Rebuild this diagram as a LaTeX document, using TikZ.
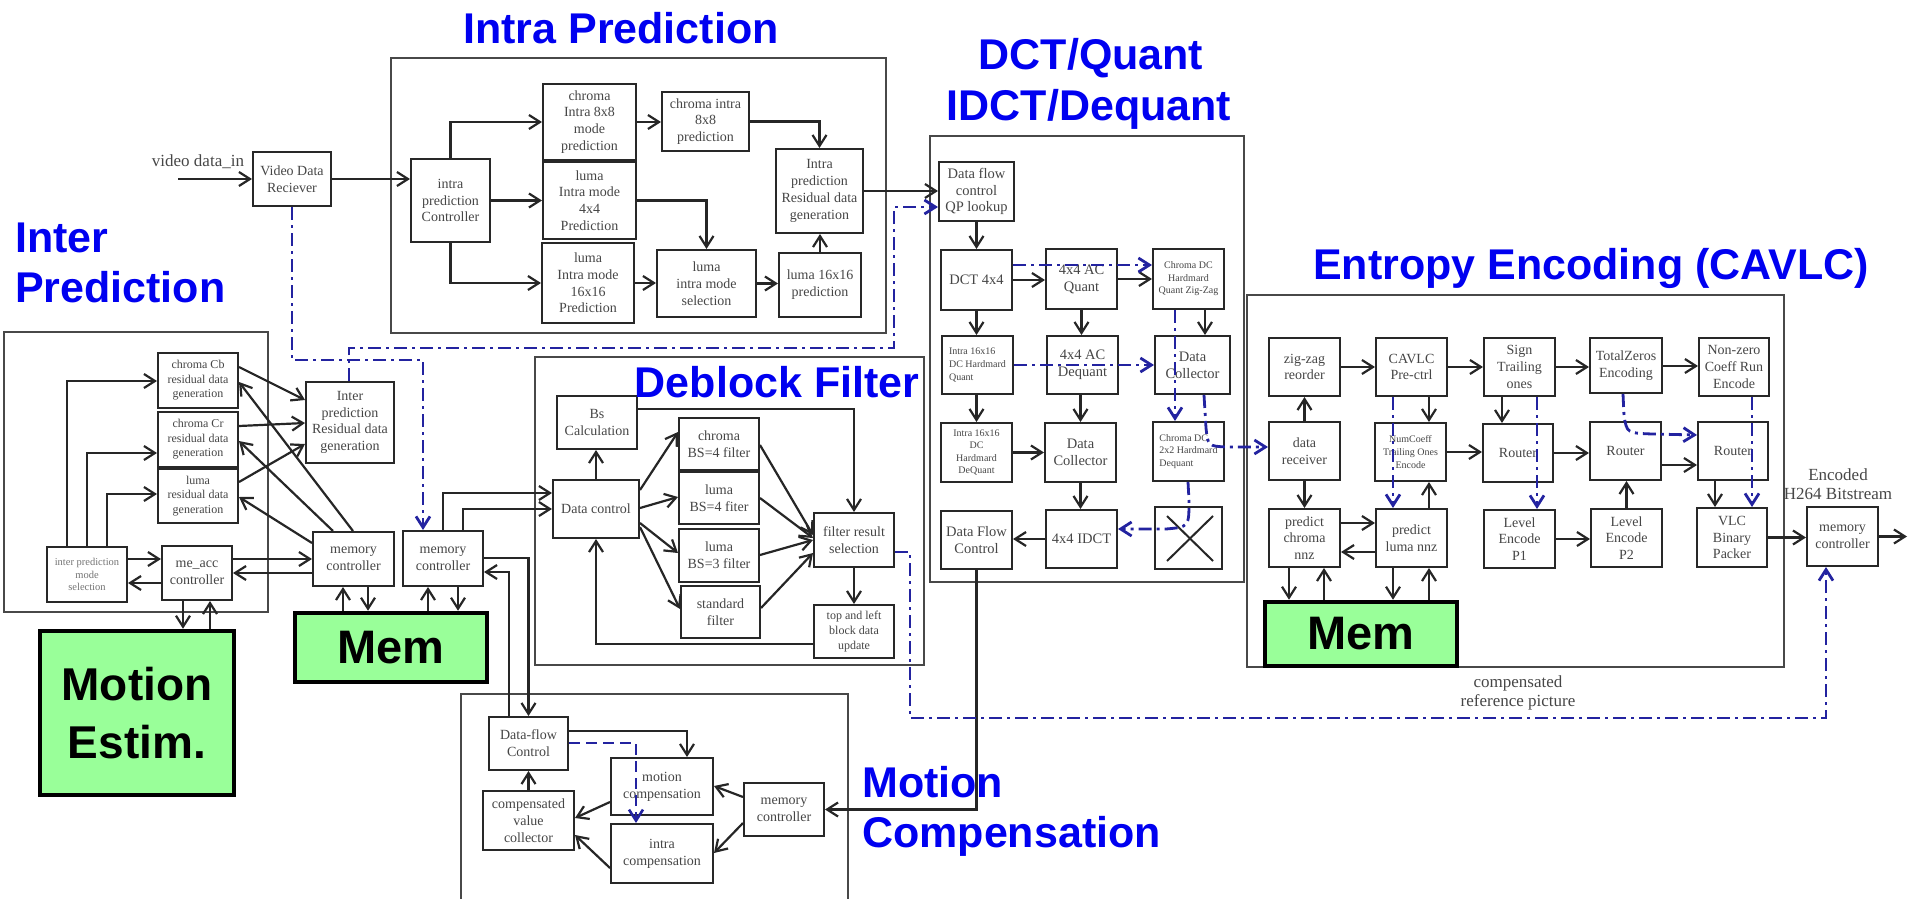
\documentclass[tikz,border=0pt]{standalone}
\usepackage{fontspec}
\setmainfont{Liberation Serif}
\newfontfamily\headfont{Liberation Sans}
\usetikzlibrary{arrows.meta,calc}
\definecolor{boxline}{RGB}{40,40,40}
\definecolor{boxtext}{RGB}{70,70,70}
\definecolor{flowblue}{RGB}{35,35,160}
\definecolor{headblue}{RGB}{0,0,240}
\definecolor{memgreen}{RGB}{153,255,153}
\tikzset{
  sz/.style 2 args={minimum width=#1pt,minimum height=#2pt},
  blk/.style={draw=boxline,line width=2pt,fill=white,inner sep=0pt,align=center,
    text=boxtext,font=\fontsize{14}{16.8}\selectfont},
  fsmall/.style={font=\fontsize{12}{14.6}\selectfont},
  ftiny/.style={font=\fontsize{10}{12.6}\selectfont},
  frame/.style={draw=boxline!85,line width=2pt},
  arr/.style={draw=black!85,line width=2.2pt,-{Straight Barb[length=11pt,width=14pt]}},
  link/.style={draw=black!85,line width=2pt},
  bluearr/.style={draw=flowblue,line width=2.8pt,dash pattern=on 13pt off 5pt on 3pt off 5pt,
    -{Straight Barb[length=11pt,width=14pt]}},
  bluedash/.style={draw=flowblue,line width=2.6pt,dash pattern=on 11pt off 6pt,
    -{Straight Barb[length=11pt,width=14pt]}},
  head/.style={text=headblue,font=\headfont\bfseries\fontsize{43}{50}\selectfont,inner sep=0pt},
  memblk/.style={draw=black,line width=4.5pt,fill=memgreen,align=center,
    font=\headfont\bfseries\fontsize{47}{58}\selectfont},
  lbl/.style={text=boxtext,font=\fontsize{17}{19}\selectfont,align=center,inner sep=0pt},
}
\begin{document}
\begin{tikzpicture}[x=1pt,y=-1pt]
\useasboundingbox (0,0) rectangle (1909,899);

% block frames
\draw[frame] (4,332) rectangle (268,612);
\draw[frame] (391,58) rectangle (886,333);
\draw[frame] (930,136) rectangle (1244,582);
\draw[frame] (1247,295) rectangle (1784,667);
\draw[frame] (535,357) rectangle (924,665);
\draw[frame] (461,910) -- (461,694) -- (848,694) -- (848,910);

% ---------- inter prediction ----------
\node[blk,fsmall,sz={80}{55}] (cb) at (198,380.5) {chroma Cb\\residual data\\generation};
\node[blk,fsmall,sz={80}{55}] (cr) at (198,439.5) {chroma Cr\\residual data\\generation};
\node[blk,fsmall,sz={80}{54}] (lu) at (198,496) {luma\\residual data\\generation};
\node[blk,sz={88}{81}] (ipr) at (350,422.5) {Inter\\prediction\\Residual data\\generation};
\node[blk,font=\fontsize{10.5}{12.5}\selectfont,text=boxtext!75,sz={80}{55}] (ims) at (87,574.5) {inter prediction\\mode\\selection};
\node[blk,sz={70}{54}] (meacc) at (197,573) {me\_acc\\controller};
\node[blk,sz={81}{54}] (mc1) at (353.5,559) {memory\\controller};
\node[blk,sz={80}{55}] (mc2) at (443,558.5) {memory\\controller};
\node[memblk,sz={192}{69}] (mem1) at (391,647.5) {Mem};
\node[memblk,font=\headfont\bfseries\fontsize{46}{58}\selectfont,sz={194}{164}] (me) at (137,713) {Motion\\Estim.};

% ---------- video input ----------
\node[blk,sz={78}{54}] (vdr) at (292,179) {Video Data\\Reciever};
\node[lbl,anchor=base] (vinlbl) at (198,166) {video data\_in};
\coordinate (vin) at (178,179);

% ---------- intra prediction ----------
\node[blk,sz={79}{83}] (ictrl) at (450.5,200.5) {intra\\prediction\\Controller};
\node[blk,sz={93}{76}] (c8m) at (589.5,122) {chroma\\Intra 8x8\\mode\\prediction};
\node[blk,sz={93}{77}] (l4) at (589.5,200.5) {luma\\Intra mode\\4x4\\Prediction};
\node[blk,sz={92}{80}] (l16) at (588,283) {luma\\Intra mode\\16x16\\Prediction};
\node[blk,sz={87}{59}] (c8p) at (705.5,121.5) {chroma intra\\8x8\\prediction};
\node[blk,sz={99}{67}] (lsel) at (706.5,283.5) {luma\\intra mode\\selection};
\node[blk,sz={82}{64}] (l16p) at (820,285) {luma 16x16\\prediction};
\node[blk,sz={87}{84}] (iprd) at (819.5,191) {Intra\\prediction\\Residual data\\generation};

% ---------- DCT / quant ----------
\node[blk,font=\fontsize{14.5}{16.8}\selectfont,sz={75}{59}] (qp) at (976.5,191.5) {Data flow\\control\\QP lookup};
\node[blk,font=\fontsize{14.5}{16.8}\selectfont,sz={71}{60}] (dct) at (976.5,280) {DCT 4x4};
\node[blk,font=\fontsize{14.5}{16.8}\selectfont,sz={71}{60}] (acq) at (1081.5,279) {4x4 AC\\Quant};
\node[blk,ftiny,sz={71}{60}] (cdq) at (1188.5,279) {Chroma DC\\Hardmard\\Quant Zig-Zag};
\node[blk,ftiny,align=left,sz={71}{58}] (i16q) at (977.5,365) {Intra 16x16\\DC Hardmard\\Quant};
\node[blk,font=\fontsize{14.5}{16.8}\selectfont,sz={71}{58}] (acdq) at (1082.5,365) {4x4 AC\\Dequant};
\node[blk,font=\fontsize{14.5}{16.8}\selectfont,sz={75}{58}] (dcr) at (1192.5,365) {Data\\Collector};
\node[blk,ftiny,sz={71}{59}] (i16dq) at (976.5,452.5) {Intra 16x16\\DC\\Hardmard\\DeQuant};
\node[blk,font=\fontsize{14.5}{16.8}\selectfont,sz={71}{59}] (dcm) at (1080.5,452.5) {Data\\Collector};
\node[blk,ftiny,align=left,sz={71}{59}] (cddq) at (1188.5,451.5) {Chroma DC\\2x2 Hardmard\\Dequant};
\node[blk,font=\fontsize{14.5}{16.8}\selectfont,sz={71}{58}] (dfc) at (976.5,540) {Data Flow\\Control};
\node[blk,font=\fontsize{14.5}{16.8}\selectfont,sz={71}{58}] (idct) at (1081.5,539) {4x4 IDCT};
\node[blk,sz={67}{62}] (xbox) at (1188.5,538) {};
\draw[link] ($(xbox.north west)+(13,10)$) -- ($(xbox.south east)+(-10,-9)$);
\draw[link] ($(xbox.north east)+(-10,10)$) -- ($(xbox.south west)+(13,-9)$);

% ---------- entropy encoding ----------
\node[blk,sz={71}{58}] (zz) at (1304.5,367) {zig-zag\\reorder};
\node[blk,sz={71}{58}] (cpre) at (1411.5,367) {CAVLC\\Pre-ctrl};
\node[blk,sz={71}{58}] (sto) at (1519.5,367) {Sign\\Trailing\\ones};
\node[blk,sz={72}{55}] (tz) at (1626,365.5) {TotalZeros\\Encoding};
\node[blk,sz={70}{58}] (nzc) at (1734,367) {Non-zero\\Coeff Run\\Encode};
\node[blk,sz={71}{58}] (drx) at (1304.5,451) {data\\receiver};
\node[blk,ftiny,sz={71}{58}] (nct) at (1410.5,452) {NumCoeff\\Trailing Ones\\Encode};
\node[blk,sz={70}{58}] (r1) at (1518,453) {Router};
\node[blk,sz={71}{58}] (r2) at (1625.5,451) {Router};
\node[blk,sz={70}{58}] (r3) at (1733,451) {Router};
\node[blk,sz={71}{58}] (pcn) at (1304.5,538) {predict\\chroma\\nnz};
\node[blk,sz={71}{58}] (pln) at (1411.5,538) {predict\\luma nnz};
\node[blk,sz={71}{58}] (lp1) at (1519.5,539) {Level\\Encode\\P1};
\node[blk,sz={71}{58}] (lp2) at (1626.5,538) {Level\\Encode\\P2};
\node[blk,sz={70}{59}] (vlc) at (1732,537.5) {VLC\\Binary\\Packer};
\node[memblk,sz={192}{64}] (mem3) at (1361,634) {Mem};
\node[blk,sz={71}{59}] (mco) at (1842.5,536.5) {memory\\controller};
\node[lbl] (enclbl) at (1838,484) {Encoded\\H264 Bitstream};
\node[lbl] (reflbl) at (1518,692.5) {compensated\\reference picture};
\coordinate (vout) at (1907,536.5);

% ---------- deblock filter ----------
\node[blk,sz={80}{53}] (bs) at (597,422.5) {Bs\\Calculation};
\node[blk,sz={86}{58}] (dctl) at (596,509) {Data control};
\node[blk,sz={80}{52}] (cf4) at (719,444) {chroma\\BS=4 filter};
\node[blk,sz={80}{52}] (lf4) at (719,498) {luma\\BS=4 fiter};
\node[blk,sz={80}{53}] (lf3) at (719,555.5) {luma\\BS=3 filter};
\node[blk,sz={79}{52}] (sf) at (720.5,612) {standard\\filter};
\node[blk,sz={80}{54}] (frs) at (854,540) {filter result\\selection};
\node[blk,fsmall,sz={80}{53}] (tlu) at (854,631.5) {top and left\\block data\\update};

% ---------- motion compensation ----------
\node[blk,sz={79}{53}] (mdfc) at (528.5,743.5) {Data-flow\\Control};
\node[blk,sz={91}{59}] (cvc) at (528.5,820.5) {compensated\\value\\collector};
\node[blk,sz={102}{57}] (mcomp) at (662,786.5) {motion\\compensation};
\node[blk,sz={102}{59}] (icomp) at (662,853.5) {intra\\compensation};
\node[blk,sz={80}{53}] (mmc) at (784,809.5) {memory\\controller};

% ===== connectors: inter prediction =====
\draw[arr] (ims.north -| 67,0) |- (cb.west |- 0,381);
\draw[arr] (ims.north -| 87,0) |- (cr.west |- 0,453);
\draw[arr] (ims.north -| 107,0) |- (lu.west |- 0,494);
\draw[arr] (ims.east |- 0,559) -- (meacc.west |- 0,559);
\draw[arr] (meacc.west |- 0,583) -- (ims.east |- 0,583);
\draw[arr] (meacc.east |- 0,559) -- (mc1.west |- 0,559);
\draw[arr] (mc1.west |- 0,573) -- (meacc.east |- 0,573);
\draw[arr] (cb.east |- 0,367) -- (ipr.west |- 0,400);
\draw[arr] (cr.east |- 0,426) -- (ipr.west |- 0,423);
\draw[arr] (lu.east |- 0,482) -- (ipr.west |- 0,444);
\draw[arr] (mc1.north -| 353,0) -- (cb.east |- 0,382);
\draw[arr] (mc1.north -| 333,0) -- (cr.east |- 0,441);
\draw[arr] (mc1.west |- 0,543) -- (lu.east |- 0,497);
\draw[arr] (mem1.north -| 343,0) -- (mc1.south -| 343,0);
\draw[arr] (mc1.south -| 368,0) -- (mem1.north -| 368,0);
\draw[arr] (mem1.north -| 428,0) -- (mc2.south -| 428,0);
\draw[arr] (mc2.south -| 458,0) -- (mem1.north -| 458,0);
\draw[arr] (meacc.south -| 183,0) -- (me.north -| 183,0);
\draw[arr] (me.north -| 210,0) -- (meacc.south -| 210,0);

% ===== connectors: input and intra prediction =====
\draw[arr] (vin) -- (vdr.west);
\draw[arr] (vdr.east) -- (ictrl.west |- vdr.east);
\draw[arr] (ictrl.north) |- (c8m.west);
\draw[arr] (ictrl.east) -- (l4.west |- ictrl.east);
\draw[arr] (ictrl.south) |- (l16.west);
\draw[arr] (c8m.east) -- (c8p.west |- c8m.east);
\draw[arr] (c8p.east) -| (iprd.north);
\draw[arr] (l4.east) -| (lsel.north);
\draw[arr] (l16.east) -- (lsel.west |- l16.east);
\draw[arr] (lsel.east) -- (l16p.west |- lsel.east);
\draw[arr] (l16p.north) -- (iprd.south -| l16p.north);
\draw[arr] (iprd.east) -- (qp.west |- iprd.east);

% ===== connectors: DCT / quant =====
\draw[arr] (qp.south) -- (dct.north);
\draw[arr] (dct.east) -- (acq.west |- dct.east);
\draw[arr] (acq.east) -- (cdq.west);
\draw[arr] (dct.south) -- (i16q.north -| dct.south);
\draw[arr] (acq.south) -- (acdq.north -| acq.south);
\draw[arr] (cdq.south -| 1205,0) -- (dcr.north -| 1205,0);
\draw[arr] (i16q.south -| dct.south) -- (i16dq.north);
\draw[arr] (acdq.south -| dcm.north) -- (dcm.north);
\draw[arr] (i16dq.east) -- (dcm.west |- i16dq.east);
\draw[arr] (dcm.south) -- (idct.north -| dcm.south);
\draw[arr] (idct.west) -- (dfc.east |- idct.west);
\draw[arr] (dfc.south) |- (mmc.east);

% ===== connectors: entropy encoding =====
\draw[arr] (zz.east) -- (cpre.west);
\draw[arr] (cpre.east) -- (sto.west);
\draw[arr] (sto.east) -- (tz.west |- sto.east);
\draw[arr] (tz.east |- 0,366) -- (nzc.west |- 0,366);
\draw[arr] (drx.north) -- (zz.south);
\draw[arr] (drx.south) -- (pcn.north);
\draw[arr] (cpre.south -| 1429,0) -- (nct.north -| 1429,0);
\draw[arr] (sto.south -| 1502,0) -- (r1.north -| 1502,0);
\draw[arr] (nct.east) -- (r1.west |- nct.east);
\draw[arr] (r1.east) -- (r2.west |- r1.east);
\draw[arr] (r2.east |- 0,465) -- (r3.west |- 0,465);
\draw[arr] (r3.south -| 1715,0) -- (vlc.north -| 1715,0);
\draw[arr] (lp1.east) -- (lp2.west |- lp1.east);
\draw[arr] (lp2.north) -- (r2.south -| lp2.north);
\draw[arr] (pcn.east |- 0,523) -- (pln.west |- 0,523);
\draw[arr] (pln.west |- 0,552) -- (pcn.east |- 0,552);
\draw[arr] (pln.north -| 1429,0) -- (nct.south -| 1429,0);
\draw[arr] (pcn.south -| 1289,0) -- (mem3.north -| 1289,0);
\draw[arr] (mem3.north -| 1324,0) -- (pcn.south -| 1324,0);
\draw[arr] (pln.south -| 1393,0) -- (mem3.north -| 1393,0);
\draw[arr] (mem3.north -| 1429,0) -- (pln.south -| 1429,0);
\draw[arr] (vlc.east) -- (mco.west |- vlc.east);
\draw[arr] (mco.east) -- (vout);

% ===== connectors: deblock filter =====
\draw[arr] (mc2.north -| 443,0) |- (dctl.west |- 0,493);
\draw[arr] (mc2.north -| 463,0) |- (dctl.west |- 0,509);
\draw[arr] (dctl.north) -- (bs.south -| dctl.north);
\draw[arr] (bs.east |- 0,409) -| (frs.north);
\draw[arr] (dctl.east |- 0,490) -- (cf4.west |- 0,432);
\draw[arr] (dctl.east |- 0,508) -- (lf4.west |- 0,497);
\draw[arr] (dctl.east |- 0,523) -- (lf3.west |- 0,553);
\draw[arr] (dctl.east |- 0,527) -- (sf.west |- 0,609);
\draw[arr] (cf4.east |- 0,445) -- (frs.west |- 0,535);
\draw[arr] (lf4.east |- 0,498) -- (frs.west |- 0,538);
\draw[arr] (lf3.east |- 0,555) -- (frs.west |- 0,540);
\draw[arr] (sf.east |- 0,608) -- (frs.west |- 0,553);
\draw[arr] (frs.south) -- (tlu.north);
\draw[arr] (tlu.west |- 0,644) -| (dctl.south);

% ===== connectors: motion compensation =====
\draw[arr] (mc2.east |- 0,558) -| (mdfc.north);
\draw[arr] (mdfc.north -| 509,0) |- (mc2.east |- 0,572);
\draw[arr] (mdfc.east |- 0,731) -| (mcomp.north -| 687,0);
\draw[arr] (cvc.north -| mdfc.south) -- (mdfc.south);
\draw[arr] (mcomp.west |- 0,802) -- (cvc.east |- 0,818);
\draw[arr] (icomp.west |- 0,868) -- (cvc.east |- 0,835);
\draw[arr] (mmc.west |- 0,797) -- (mcomp.east |- 0,786);
\draw[arr] (mmc.west |- 0,823) -- (icomp.east |- 0,853);

% ===== control / side paths (blue) =====
\draw[bluearr] (vdr.south) -- (vdr.south |- 0,360) -| (mc2.north -| 423,0);
\draw[bluearr] (ipr.north -| 349,0) |- (894,348) |- (qp.west |- 0,207);
\draw[bluearr] (dct.east |- 0,265) -- (cdq.west |- 0,265);
\draw[bluearr] (i16q.east |- 0,365) -- (dcr.west |- 0,365);
\draw[bluearr] (cdq.south -| 1175,0) -- (cddq.north -| 1175,0);
\draw[bluearr] (dcr.south -| 1204,0) -- (1206,428) .. controls (1208,446) .. (1226,447) -- (drx.west |- 0,447);
\draw[bluearr] (cddq.south -| 1188,0) -- (1189,500) .. controls (1189,527) .. (1166,529) -- (idct.east |- 0,529);
\draw[bluearr] (cpre.south -| 1393,0) -- (pln.north -| 1393,0);
\draw[bluearr] (sto.south -| 1537,0) -- (lp1.north -| 1537,0);
\draw[bluearr] (tz.south -| 1623,0) -- (1624,416) .. controls (1627,433) .. (1652,434) -- (r3.west |- 0,435);
\draw[bluearr] (nzc.south -| 1752,0) -- (vlc.north -| 1752,0);
\draw[bluearr] (frs.east |- 0,552) -| (910,718) -| (mco.south -| 1826,0);
\draw[bluedash] (mdfc.east |- 0,743) -| (icomp.north -| 636,0);

% ===== block titles =====
\node[head,anchor=base] (tintra) at (621,44) {Intra Prediction};
\node[head,anchor=base west] (tinter1) at (15,252) {Inter};
\node[head,anchor=base west] (tinter2) at (15,302) {Prediction};
\node[head,anchor=base] (tdct1) at (1091,70) {DCT/Quant};
\node[head,anchor=base] (tdct2) at (1089,120) {IDCT/Dequant};
\node[head,anchor=base] (tdeb) at (777,397) {Deblock Filter};
\node[head,anchor=base] (tent) at (1591,279) {Entropy Encoding (CAVLC)};
\node[head,anchor=base west] (tmc1) at (862,797) {Motion};
\node[head,anchor=base west] (tmc2) at (862,847) {Compensation};
\end{tikzpicture}
\end{document}
